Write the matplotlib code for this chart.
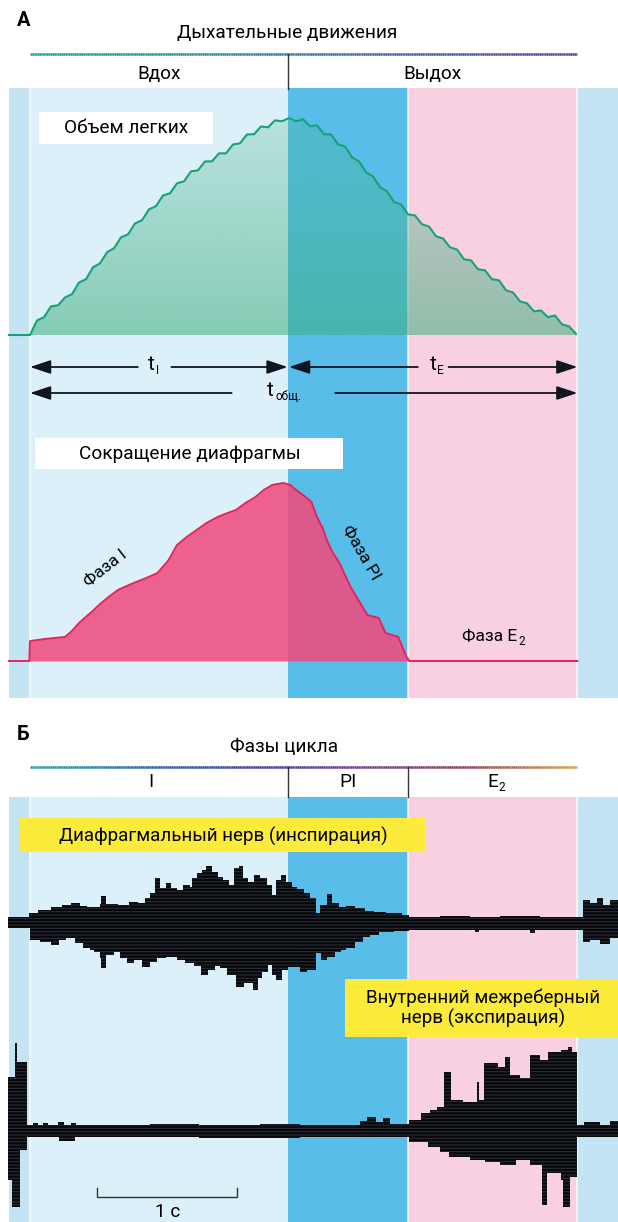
import numpy as np
import matplotlib.pyplot as plt
from matplotlib.collections import LineCollection
from matplotlib.colors import LinearSegmentedColormap, to_rgba
from matplotlib.patches import Rectangle

plt.rcParams['font.family'] = ['Roboto', 'DejaVu Sans']
plt.rcParams['hatch.linewidth'] = 0.7

W, H = 618, 1222
PX_PER_S = 140.0
T0, T1 = -30 / PX_PER_S, (W - 30) / PX_PER_S

# phases of the breathing cycle, s
phase_edges = [-0.15, 0.0, 1.84, 2.70, 3.91, 4.20]
phase_colors = ['#c4e4f3', '#dcf0f9', '#58bde8', '#f8d0e1', '#c4e4f3']
insp_end, pi_end, exp_end = 1.84, 2.70, 3.91
cycle_labels = ['I', 'PI', 'E']

# lung volume (normalised), one sample every 0.05 s from t = 0
lung_v = [0.000, 0.067, 0.082, 0.132, 0.137, 0.173, 0.188, 0.242, 0.257, 0.312,
          0.330, 0.381, 0.400, 0.450, 0.464, 0.514, 0.529, 0.579, 0.594, 0.643,
          0.653, 0.699, 0.708, 0.754, 0.759, 0.800, 0.800, 0.837, 0.837, 0.878,
          0.883, 0.924, 0.925, 0.961, 0.957, 0.989, 0.985, 1.000, 0.985, 0.994,
          0.962, 0.966, 0.925, 0.924, 0.879, 0.869, 0.819, 0.800, 0.750, 0.731,
          0.681, 0.662, 0.612, 0.602, 0.556, 0.551, 0.510, 0.500, 0.455, 0.445,
          0.404, 0.394, 0.349, 0.344, 0.303, 0.298, 0.257, 0.252, 0.206, 0.196,
          0.155, 0.146, 0.109, 0.113, 0.082, 0.090, 0.049, 0.040, 0.005]
lung_t = [-0.15] + [round(0.05 * k, 2) for k in range(len(lung_v))]
lung_v = [0.0] + lung_v

# diaphragm contraction (normalised)
dia_t = [-0.15, -0.005, 0.0, 0.11, 0.25, 0.30, 0.35, 0.39, 0.44, 0.50, 0.57, 0.63,
         0.69, 0.74, 0.83, 0.91, 0.99, 1.05, 1.12, 1.19, 1.26, 1.34, 1.41, 1.47,
         1.54, 1.61, 1.67, 1.73, 1.81, 1.86, 1.90, 1.96, 2.01, 2.05, 2.09, 2.12,
         2.16, 2.21, 2.25, 2.29, 2.35, 2.41, 2.49, 2.54, 2.63, 2.69, 2.71, 3.91]
dia_f = [0.0, 0.0, 0.112, 0.124, 0.135, 0.169, 0.213, 0.242, 0.275, 0.320, 0.365, 0.400,
         0.421, 0.438, 0.466, 0.494, 0.567, 0.652, 0.697, 0.736, 0.775, 0.809, 0.831, 0.848,
         0.888, 0.921, 0.961, 0.989, 1.000, 0.989, 0.961, 0.927, 0.893, 0.809, 0.747, 0.680,
         0.612, 0.551, 0.483, 0.416, 0.337, 0.258, 0.242, 0.157, 0.135, 0.022, 0.0, 0.0]

# phrenic nerve activity (arbitrary units), upper and lower envelopes
n1_up_t = [-0.16, -0.04, -0.01, 0.06, 0.15, 0.23, 0.29, 0.36, 0.41, 0.50, 0.51, 0.54,
           0.63, 0.71, 0.77, 0.82, 0.86, 0.89, 0.93, 0.97, 1.01, 1.05, 1.09, 1.14,
           1.16, 1.19, 1.23, 1.26, 1.30, 1.34, 1.38, 1.42, 1.46, 1.49, 1.52, 1.56,
           1.60, 1.64, 1.69, 1.73, 1.76, 1.79, 1.83, 1.87, 1.91, 1.96, 2.00, 2.04,
           2.07, 2.12, 2.16, 2.21, 2.26, 2.32, 2.39, 2.46, 2.54, 2.60, 2.66, 2.71,
           2.93, 3.14, 3.36, 3.64, 3.91, 3.95, 4.00, 4.05, 4.09, 4.14, 4.20]
n1_up = [5, 5, 9, 12, 15, 17, 19, 16, 15, 18, 26, 18,
         17, 20, 19, 24, 29, 44, 34, 39, 34, 32, 37, 35,
         44, 49, 52, 56, 50, 45, 42, 37, 54, 56, 44, 40,
         47, 44, 37, 27, 42, 47, 40, 35, 33, 29, 24, 9,
         17, 28, 19, 15, 16, 14, 11, 10, 9, 9, 7, 5,
         6, 5, 6, 5, 5, 22, 19, 24, 17, 22, 18]
n1_lo_t = [-0.16, -0.04, 0.00, 0.07, 0.15, 0.21, 0.26, 0.32, 0.38, 0.43, 0.46, 0.50,
           0.51, 0.54, 0.60, 0.64, 0.69, 0.74, 0.80, 0.86, 0.91, 0.97, 1.05, 1.11,
           1.17, 1.22, 1.27, 1.32, 1.36, 1.41, 1.47, 1.53, 1.59, 1.63, 1.66, 1.70,
           1.73, 1.76, 1.80, 1.84, 1.87, 1.93, 1.98, 2.04, 2.08, 2.12, 2.18, 2.22,
           2.26, 2.32, 2.38, 2.43, 2.49, 2.60, 2.71, 3.18, 3.21, 3.57, 3.61, 3.91,
           3.95, 4.00, 4.07, 4.14, 4.20]
n1_lo = [-6, -6, -18, -20, -23, -18, -16, -21, -26, -28, -30, -36,
         -46, -33, -30, -36, -41, -38, -45, -40, -36, -35, -38, -41,
         -44, -53, -48, -44, -46, -53, -65, -61, -68, -56, -50, -43,
         -53, -58, -48, -45, -45, -50, -48, -31, -38, -35, -30, -28,
         -26, -20, -15, -13, -10, -9, -8, -10, -8, -11, -8, -8,
         -20, -18, -22, -16, -20]

# internal intercostal nerve activity (arbitrary units)
n2_up_t = [-0.16, -0.11, -0.09, -0.02, 0.02, 0.06, 0.09, 0.13, 0.20, 0.24,
           0.29, 0.33, 0.86, 1.21, 1.64, 1.93, 2.36, 2.41, 2.47, 2.52,
           2.57, 2.71, 2.79, 2.86, 2.91, 2.96, 3.01, 3.09, 3.19, 3.21,
           3.24, 3.34, 3.39, 3.43, 3.50, 3.57, 3.64, 3.70, 3.79, 3.84,
           3.87, 3.91, 3.96, 4.07, 4.14, 4.20]
n2_up = [54, 88, 69, 6, 8, 6, 8, 6, 9, 6,
         8, 6, 7, 6, 7, 6, 10, 14, 9, 13,
         7, 11, 18, 21, 24, 59, 31, 29, 49, 31,
         68, 64, 74, 56, 53, 76, 71, 79, 81, 84,
         79, 6, 9, 6, 10, 10]
n2_lo_t = [-0.16, -0.13, -0.07, -0.02, 0.21, 0.32, 1.21, 1.93, 2.68, 2.71,
           2.84, 2.93, 2.99, 3.14, 3.25, 3.36, 3.47, 3.57, 3.66, 3.69,
           3.79, 3.81, 3.86, 3.91, 4.20]
n2_lo = [-49, -76, -19, -6, -10, -6, -7, -6, -6, -11,
         -16, -21, -26, -29, -31, -34, -29, -34, -74, -42,
         -49, -76, -46, -6, -6]

FS = 13.7


def px_axes(top, bottom, ylim, z):
    ax = fig.add_axes([0, 1 - bottom / H, 1, (bottom - top) / H])
    ax.set_xlim(T0, T1)
    ax.set_ylim(*ylim)
    ax.set_axis_off()
    ax.set_zorder(z)
    return ax


def grad_line(ax, x0, x1, y, colors):
    xs = np.linspace(x0, x1, 300)
    segs = [[(xs[i], y), (xs[i + 1], y)] for i in range(len(xs) - 1)]
    cmap = LinearSegmentedColormap.from_list('hdr', colors)
    lc = LineCollection(segs, cmap=cmap, linewidths=1.8, capstyle='butt')
    lc.set_array(np.linspace(0, 1, len(segs)))
    ax.add_collection(lc)


def sub_text(ax, x, y, main, sub, size=FS, sub_size=8.5, **kw):
    t = ax.text(x, y, main, fontsize=size, ha='center', va='center', **kw)
    ax.annotate(sub, xy=(1, 0.2), xycoords=t, xytext=(0.6, 0),
                textcoords='offset points', fontsize=sub_size, ha='left', va='center')
    return t


fig = plt.figure(figsize=(W / 100, H / 100), dpi=100)
fig.patch.set_facecolor('white')

# background: time on x, pixels on y
ax_t = fig.add_axes([0, 0, 1, 1])
ax_t.set_xlim(T0, T1)
ax_t.set_ylim(H, 0)
ax_t.set_axis_off()
ax_t.set_zorder(0)

for top, bottom in [(88, 698), (797, 1222)]:
    for i, c in enumerate(phase_colors):
        ax_t.bar(phase_edges[i], bottom - top, width=phase_edges[i + 1] - phase_edges[i],
                 bottom=top, align='edge', color=c, linewidth=0)
    for e in (0.0, pi_end, exp_end):
        ax_t.plot([e, e], [top, bottom], color='white', lw=1.2, alpha=0.8)

# header lines
grad_line(ax_t, 0.0, exp_end, 54, ['#1e9c9c', '#2a8ab0', '#3b62b0', '#5a3ea2'])
grad_line(ax_t, 0.0, exp_end, 767, ['#1fa3a0', '#2460b0', '#3a3a9c', '#6b3592',
                                     '#8a3a4c', '#d99a3e'])
ax_t.plot([insp_end, insp_end], [54, 89], color='#333333', lw=1)
for e in (insp_end, pi_end):
    ax_t.plot([e, e], [767, 797], color='#333333', lw=1)

# phase labels
ax_t.text(insp_end / 2, 74, 'Вдох', fontsize=FS, ha='center', va='center')
ax_t.text((insp_end + exp_end) / 2, 74, 'Выдох', fontsize=FS, ha='center', va='center')
cx = [insp_end / 2, (insp_end + pi_end) / 2, (pi_end + exp_end) / 2]
ax_t.text(cx[0] - 0.06, 782, cycle_labels[0], fontsize=FS, ha='center', va='center')
ax_t.text(cx[1], 782, cycle_labels[1], fontsize=FS, ha='center', va='center')
sub_text(ax_t, cx[2], 782, cycle_labels[2], '2')

# duration arrows
arrow_kw = dict(arrowstyle='-|>,head_length=0.9,head_width=0.3', color='#111522',
                lw=1.3, mutation_scale=14, shrinkA=0, shrinkB=0)
for tip, tail in [(0.0, 0.77), (insp_end, 1.01), (insp_end + 0.01, 2.77),
                  (exp_end, 2.99)]:
    ax_t.annotate('', xy=(tip, 367), xytext=(tail, 367), arrowprops=arrow_kw)
for tip, tail in [(0.0, 1.44), (exp_end, 2.18)]:
    ax_t.annotate('', xy=(tip, 393), xytext=(tail, 393), arrowprops=arrow_kw)
sub_text(ax_t, 0.87, 365, 't', 'I', size=15, sub_size=8.5)
sub_text(ax_t, 2.88, 365, 't', 'E', size=15, sub_size=8.5)
sub_text(ax_t, 1.72, 391, 't', 'общ.', size=15, sub_size=8.5)

# scale bar 1 s
ax_t.plot([0.48, 0.48, 1.48, 1.48], [1188, 1197, 1197, 1188], color='#333333', lw=1)
ax_t.text(0.98, 1212, '1 с', fontsize=FS, ha='center', va='center')

# lung volume
ax_l = px_axes(118, 335, (0, 1), 1)
poly = ax_l.fill_between(lung_t, lung_v, 0, facecolor='none', edgecolor='none')
grad = np.zeros((256, 1, 4))
grad[..., :3] = to_rgba('#3fae7f')[:3]
grad[:, 0, 3] = np.linspace(0.55, 0.22, 256)
im = ax_l.imshow(grad, extent=[T0, T1, 0, 1], origin='lower', aspect='auto')
im.set_clip_path(poly.get_paths()[0], transform=ax_l.transData)
ax_l.plot(lung_t, lung_v, color='#17a37a', lw=1.5, clip_on=False)
ax_l.set_xlim(T0, T1)
ax_l.set_ylim(0, 1)

# diaphragm
ax_d = px_axes(483, 661, (0, 1), 1)
ax_d.fill_between(dia_t, dia_f, 0, color='#ef4d7e', alpha=0.88, linewidth=0)
ax_d.plot(dia_t, dia_f, color='#e3255c', lw=1.4, clip_on=False)

# nerves
ax_n1 = px_axes(840, 1000, (-78, 82), 1)
ax_n2 = px_axes(1035, 1215, (-84, 96), 1)
for ax, ut, u, lt, lo in [(ax_n1, n1_up_t, n1_up, n1_lo_t, n1_lo),
                          (ax_n2, n2_up_t, n2_up, n2_lo_t, n2_lo)]:
    ax.fill_between(ut, -2, u, step='post', facecolor='#08080a',
                    edgecolor='#2a303c', hatch='-----', linewidth=0)
    ax.fill_between(lt, lo, 2, step='post', facecolor='#08080a',
                    edgecolor='#2a303c', hatch='-----', linewidth=0)

# labels in pixel coordinates
ax_p = fig.add_axes([0, 0, 1, 1])
ax_p.set_xlim(0, W)
ax_p.set_ylim(H, 0)
ax_p.set_axis_off()
ax_p.set_zorder(2)

ax_p.text(17, 21, 'А', fontsize=14.5, fontweight='bold', ha='left', va='center')
ax_p.text(17, 735, 'Б', fontsize=14.5, fontweight='bold', ha='left', va='center')
ax_p.text(287, 33, 'Дыхательные движения', fontsize=FS, ha='center', va='center')
ax_p.text(284, 747, 'Фазы цикла', fontsize=FS, ha='center', va='center')

ax_p.add_patch(Rectangle((39, 112), 174, 32, color='white', lw=0))
ax_p.text(126, 128, 'Объем легких', fontsize=FS, ha='center', va='center')
ax_p.add_patch(Rectangle((35, 438), 308, 31, color='white', lw=0))
ax_p.text(190, 454, 'Сокращение диафрагмы', fontsize=FS, ha='center', va='center')

ax_p.text(105, 568, 'Фаза I', fontsize=12.5, ha='center', va='center', rotation=38)
ax_p.text(361, 553, 'Фаза PI', fontsize=12.5, ha='center', va='center', rotation=-60)
sub_text(ax_p, 490, 637, 'Фаза E', '2', size=12.5, sub_size=8.5)

ax_p.add_patch(Rectangle((20, 818), 405, 34, color='#fdeb3c', lw=0))
ax_p.text(223, 836, 'Диафрагмальный нерв (инспирация)', fontsize=13.5,
          ha='center', va='center')
ax_p.add_patch(Rectangle((345, 979), 273, 58, color='#fdeb3c', lw=0))
ax_p.text(483, 1008, 'Внутренний межреберный\nнерв (экспирация)', fontsize=13.5,
          ha='center', va='center', linespacing=1.15)

fig.savefig('out.png', dpi=100)
